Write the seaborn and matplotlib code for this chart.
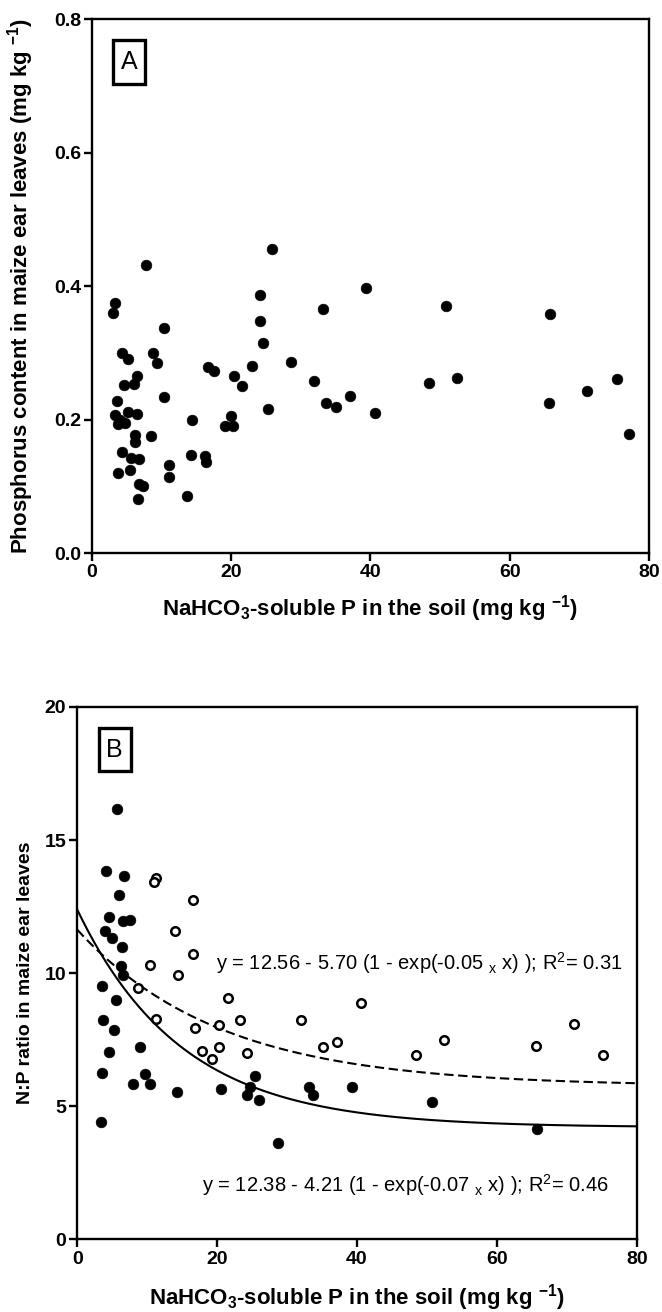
import matplotlib

matplotlib.use("Agg")

import matplotlib.pyplot as plt
import numpy as np
import pandas as pd
import seaborn as sns
from matplotlib.patches import Rectangle


# Panel A: soil NaHCO3-P vs P content in maize ear leaves
A_SOIL_P = [
    25.8, 7.7, 39.3, 3.3, 3.0, 24.1, 33.2, 24.1, 10.3, 24.5,
    4.3, 5.1, 8.7, 9.4, 16.6, 17.5, 23.0, 28.6, 6.4, 6.1,
    4.6, 20.4, 21.5, 31.9, 10.3, 3.6, 33.6, 35.1, 37.1, 25.3,
    3.3, 5.2, 6.4, 4.0, 3.7, 4.8, 14.3, 20.0, 19.1, 20.2,
    6.2, 8.5, 6.2, 4.3, 5.6, 6.8, 14.2, 16.2, 16.4, 11.1,
    11.1, 5.5, 3.8, 6.7, 7.3, 6.6, 13.6,
    50.8, 65.8, 40.6, 48.4, 52.5, 65.7, 71.1, 75.5, 77.1,
]
A_LEAF_P = [
    0.456, 0.431, 0.397, 0.375, 0.359, 0.386, 0.365, 0.347, 0.337, 0.315,
    0.300, 0.291, 0.300, 0.285, 0.279, 0.273, 0.280, 0.286, 0.265, 0.253,
    0.252, 0.265, 0.250, 0.257, 0.234, 0.228, 0.225, 0.218, 0.235, 0.215,
    0.207, 0.212, 0.209, 0.200, 0.193, 0.195, 0.200, 0.205, 0.191, 0.191,
    0.177, 0.175, 0.166, 0.152, 0.142, 0.141, 0.147, 0.146, 0.136, 0.132,
    0.114, 0.125, 0.120, 0.103, 0.100, 0.081, 0.085,
    0.370, 0.358, 0.210, 0.254, 0.262, 0.225, 0.242, 0.260, 0.179,
]

# Panel B: N:P ratio, filled and open symbols
B_FILLED_SOIL_P = [
    5.7, 4.1, 6.7, 5.9, 4.6, 6.6, 7.5, 3.9, 4.9, 6.4,
    6.3, 6.6, 3.5, 5.5, 3.7, 5.2, 9.0, 4.6, 3.6, 9.7,
    7.9, 10.4, 14.3, 20.5, 25.4, 24.7, 24.3, 26.0, 3.4, 28.7,
    33.2, 33.7, 39.3, 50.7, 65.7,
]
B_FILLED_NP = [
    16.17, 13.83, 13.64, 12.95, 12.11, 11.95, 11.98, 11.57, 11.32, 10.98,
    10.27, 9.92, 9.52, 9.00, 8.23, 7.88, 7.24, 7.05, 6.26, 6.20,
    5.83, 5.83, 5.53, 5.65, 6.12, 5.74, 5.43, 5.24, 4.40, 3.62,
    5.74, 5.43, 5.71, 5.18, 4.16,
]
B_OPEN_SOIL_P = [
    11.3, 11.0, 16.5, 13.9, 16.6, 10.4, 14.4, 8.7, 21.6, 40.6,
    11.3, 16.9, 20.2, 23.2, 32.0, 35.1, 37.1, 17.8, 20.2, 24.2,
    19.3, 48.4, 52.4, 65.6, 71.0, 75.2,
]
B_OPEN_NP = [
    13.58, 13.41, 12.76, 11.57, 10.73, 10.32, 9.94, 9.44, 9.07, 8.88,
    8.27, 7.94, 8.06, 8.23, 8.23, 7.21, 7.41, 7.06, 7.23, 7.00,
    6.77, 6.94, 7.50, 7.25, 8.10, 6.92,
]

# fitted exponential curves as drawn: y = plateau + (y0 - plateau) * exp(-k x)
SOLID_FIT = {"y0": 12.38, "plateau": 4.21, "k": 0.067}
DASHED_FIT = {"y0": 11.63, "plateau": 5.75, "k": 0.049}

EQ_OPEN = r"y = 12.56 - 5.70 (1 - exp(-0.05 $_{x}$ x) ); R$^{2}$= 0.31"
EQ_FILLED = r"y = 12.38 - 4.21 (1 - exp(-0.07 $_{x}$ x) ); R$^{2}$= 0.46"

X_LABEL = r"NaHCO$_{3}$-soluble P in the soil (mg kg $^{-1}$)"
Y_LABEL_A = r"Phosphorus content in maize ear leaves (mg kg $^{-1}$)"
Y_LABEL_B = "N:P ratio in maize ear leaves"


def fit_curve(params, x):
    return params["plateau"] + (params["y0"] - params["plateau"]) * np.exp(-params["k"] * x)


def style_axes(ax, yticks, yfmt):
    ax.set_xlim(0, 80)
    ax.set_ylim(yticks[0], yticks[-1])
    ax.set_xticks([0, 20, 40, 60, 80])
    ax.set_yticks(yticks)
    ax.set_yticklabels([yfmt.format(t) for t in yticks])
    for side in ["top", "right", "bottom", "left"]:
        ax.spines[side].set_visible(True)
        ax.spines[side].set_linewidth(1.7)
        ax.spines[side].set_color("black")
    ax.tick_params(direction="out", length=6, width=1.7, labelsize=14, pad=2,
                   top=False, right=False, colors="black", labelcolor="black")
    for lab in ax.get_xticklabels() + ax.get_yticklabels():
        lab.set_fontweight("bold")


def panel_box(ax, letter):
    ax.add_patch(Rectangle((0.038, 0.879), 0.058, 0.081, transform=ax.transAxes,
                           fill=False, edgecolor="black", linewidth=2.4, zorder=5))
    ax.text(0.067, 0.919, letter, transform=ax.transAxes, ha="center", va="center",
            fontsize=18, color="black", zorder=6)


def main():
    sns.set_theme(style="ticks")
    plt.rcParams["font.family"] = ["Liberation Sans", "DejaVu Sans"]
    plt.rcParams["mathtext.default"] = "regular"
    plt.rcParams["text.color"] = "black"
    plt.rcParams["axes.labelcolor"] = "black"

    fig = plt.figure(figsize=(6.62, 13.12), dpi=100)
    ax_a = fig.add_axes([0.139, 0.5785, 0.841, 0.407])
    ax_b = fig.add_axes([0.1168, 0.0553, 0.845, 0.4059])

    # panel A
    df_a = pd.DataFrame({"soil_p": A_SOIL_P, "leaf_p": A_LEAF_P})
    sns.scatterplot(data=df_a, x="soil_p", y="leaf_p", ax=ax_a, color="black",
                    s=60, edgecolor="black", linewidth=0.4, zorder=3)
    style_axes(ax_a, [0.0, 0.2, 0.4, 0.6, 0.8], "{:.1f}")
    panel_box(ax_a, "A")
    ax_a.set_xlabel(X_LABEL, fontsize=16, fontweight="bold")
    ax_a.set_ylabel(Y_LABEL_A, fontsize=16, fontweight="bold")
    ax_a.xaxis.set_label_coords(0.5, -0.075)
    ax_a.yaxis.set_label_coords(-0.1, 0.5)

    # panel B
    df_filled = pd.DataFrame({"soil_p": B_FILLED_SOIL_P, "np": B_FILLED_NP})
    df_open = pd.DataFrame({"soil_p": B_OPEN_SOIL_P, "np": B_OPEN_NP})
    grid = np.linspace(0, 80, 300)
    sns.lineplot(x=grid, y=fit_curve(SOLID_FIT, grid), ax=ax_b, color="black",
                 linewidth=1.5, zorder=2)
    sns.lineplot(x=grid, y=fit_curve(DASHED_FIT, grid), ax=ax_b, color="black",
                 linewidth=1.5, zorder=2)
    ax_b.lines[-1].set_dashes((4.5, 2.2))
    sns.scatterplot(data=df_filled, x="soil_p", y="np", ax=ax_b, color="black",
                    s=60, edgecolor="black", linewidth=0.4, zorder=3)
    sns.scatterplot(data=df_open, x="soil_p", y="np", ax=ax_b, facecolor="white",
                    s=38, edgecolor="black", linewidth=1.8, zorder=3)
    style_axes(ax_b, [0, 5, 10, 15, 20], "{:d}")
    panel_box(ax_b, "B")
    ax_b.text(19.9, 10.38, EQ_OPEN, fontsize=14.5, ha="left", va="center")
    ax_b.text(17.8, 2.05, EQ_FILLED, fontsize=14.5, ha="left", va="center")
    ax_b.set_xlabel(X_LABEL, fontsize=16, fontweight="bold")
    ax_b.set_ylabel(Y_LABEL_B, fontsize=14, fontweight="bold")
    ax_b.xaxis.set_label_coords(0.5, -0.08)
    ax_b.yaxis.set_label_coords(-0.078, 0.5)

    fig.savefig("out.png", dpi=100, facecolor="white")
    plt.close(fig)


if __name__ == "__main__":
    main()
